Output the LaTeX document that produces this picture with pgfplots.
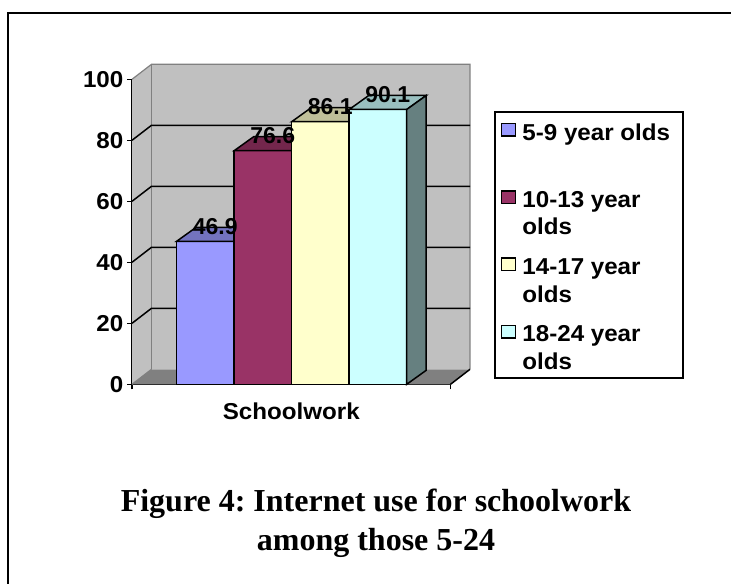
\documentclass[border=0pt]{standalone}
\usepackage{pgfplots}
\pgfplotsset{compat=1.18}
\usepackage{fontspec}
\newfontfamily\labfam[FakeStretch=1.05]{Liberation Sans}
\newfontfamily\datfam{Liberation Sans}
\newfontfamily\capfam{Liberation Serif}
\newcommand\labfont{\labfam\bfseries\fontsize{23bp}{27.5bp}\selectfont}
\newcommand\datafont{\datfam\bfseries\fontsize{23bp}{27.5bp}\selectfont}
\newcommand\capfont{\capfam\bfseries\fontsize{32bp}{38.3bp}\selectfont\frenchspacing}
% legend text: fixed-size box, baseline on the first line
\newcommand\legtext[1]{\raisebox{0pt}[20.3bp][28bp]{\parbox[t]{155bp}{\labfont\raggedright #1}}}

\definecolor{barA}{HTML}{9999FF}
\definecolor{barB}{HTML}{993366}
\definecolor{barC}{HTML}{FFFFCC}
\definecolor{barD}{HTML}{CCFFFF}
\definecolor{wallc}{HTML}{C0C0C0}
\definecolor{floorc}{HTML}{808080}
\definecolor{edgec}{HTML}{808080}

\pgfplotsset{
  barbase/.style={ybar, bar width=57.5, bar shift=0pt, draw=black, line width=1.5bp,
    legend image code/.code={%
      \path[draw=none, fill=none] (0bp,-20.45bp) -- (0bp,20.45bp);
      \draw[##1] (0bp,7.85bp) rectangle (14.3bp,20.45bp);}},
  face/.style={draw=black, line width=1.5bp, line join=miter, forget plot},
}

\begin{document}
\begin{tikzpicture}
\useasboundingbox (0,0) rectangle (731bp,-584bp);
\clip (0,0) rectangle (731bp,-584bp);
% page frame
\draw[line width=2bp] (8.3bp,-700bp) -- (8.3bp,-13bp) -- (800bp,-13bp);

\begin{axis}[
  at={(132bp,-384.3bp)}, anchor=south west,
  x=1bp, y=3.05bp,
  xmin=0, xmax=318.5, ymin=0, ymax=100,
  clip=false,
  axis x line*=bottom, axis y line*=left,
  axis line style={line width=1.5bp, black},
  tick style={black, line width=1.5bp},
  tick align=outside,
  major tick length=5bp,
  ytick={0,20,...,100},
  yticklabel style={font=\labfont, anchor=east, inner xsep=0pt, xshift=-3.5bp},
  /pgf/number format/assume math mode=true,
  xtick={0,318.5}, xticklabels={},
  extra x ticks={159.25}, extra x tick labels={Schoolwork},
  extra x tick style={major tick length=0pt},
  xticklabel style={font=\labfont, anchor=base, yshift=-34.7bp},
  legend cell align=left,
  legend style={at={(1.1375,0.896)}, anchor=north west, draw=black, line width=1.5bp,
    inner xsep=5.6bp, inner ysep=8bp, row sep=19bp, column sep=6bp,
    font=\labfont, nodes={inner sep=0pt, text depth=}},
]

% back wall, side wall and floor
\fill[wallc] (axis cs:0,0) -- (axis cs:19.5,4.92) -- (axis cs:19.5,104.92) -- (axis cs:0,100) -- cycle;
\fill[wallc] (axis cs:19.5,4.92) rectangle (axis cs:338,104.92);
\fill[floorc] (axis cs:0,0) -- (axis cs:318.5,0) -- (axis cs:338,4.92) -- (axis cs:19.5,4.92) -- cycle;
\draw[edgec, line width=1.2bp] (axis cs:0,100) -- (axis cs:19.5,104.92) -- (axis cs:338,104.92) -- (axis cs:338,4.92);
\draw[edgec, line width=1.2bp] (axis cs:19.5,4.92) -- (axis cs:19.5,104.92);
\draw[edgec, line width=1.2bp] (axis cs:0,0) -- (axis cs:19.5,4.92);
\draw[black, line width=1.5bp] (axis cs:318.5,0) -- (axis cs:338,4.92);
% gridlines
\draw[black, line width=1.5bp] (axis cs:0,20) -- (axis cs:19.5,24.92) -- (axis cs:338,24.92);
\draw[black, line width=1.5bp] (axis cs:0,40) -- (axis cs:19.5,44.92) -- (axis cs:338,44.92);
\draw[black, line width=1.5bp] (axis cs:0,60) -- (axis cs:19.5,64.92) -- (axis cs:338,64.92);
\draw[black, line width=1.5bp] (axis cs:0,80) -- (axis cs:19.5,84.92) -- (axis cs:338,84.92);

% 5-9 year olds
\addplot[barbase, fill=barA] coordinates {(73.45,46.9)};
\addlegendentry{\legtext{5-9 year olds}}
\addplot[face, fill=barA!75!black] coordinates {(44.7,46.9) (102.2,46.9) (121.7,51.49) (64.2,51.49)} -- cycle;

% 10-13 year olds
\addplot[barbase, fill=barB] coordinates {(130.95,76.6)};
\addlegendentry{\legtext{10-13 year\newline olds}}
\addplot[face, fill=barB!75!black] coordinates {(102.2,76.6) (159.7,76.6) (179.2,81.19) (121.7,81.19)} -- cycle;

% 14-17 year olds
\addplot[barbase, fill=barC] coordinates {(188.45,86.1)};
\addlegendentry{\legtext{14-17 year\newline olds}}
\addplot[face, fill=barC!75!black] coordinates {(159.7,86.1) (217.2,86.1) (236.7,90.69) (179.2,90.69)} -- cycle;

% 18-24 year olds
\addplot[barbase, fill=barD] coordinates {(245.95,90.1)};
\addlegendentry{\legtext{18-24 year\newline olds}}
\addplot[face, fill=barD!75!black] coordinates {(217.2,90.1) (274.7,90.1) (294.2,94.69) (236.7,94.69)} -- cycle;
\addplot[face, fill=barD!50!black] coordinates {(274.7,0) (274.7,90.1) (294.2,94.69) (294.2,4.59)} -- cycle;

% value labels on top of the bars
\addplot[ybar, bar width=57.5, bar shift=0pt, draw=none, fill=none, forget plot,
  nodes near coords={\pgfmathprintnumber[fixed,fixed zerofill,precision=1,assume math mode=true]{\pgfplotspointmeta}},
  nodes near coords style={font=\datafont, anchor=base, inner sep=0pt, xshift=9.75bp, yshift=7bp}]
  coordinates {(73.45,46.9) (130.95,76.6) (188.45,86.1) (245.95,90.1)};
\end{axis}

\node[font=\capfont, anchor=base] at (376bp,-511.7bp) {Figure 4: Internet use for schoolwork};
\node[font=\capfont, anchor=base] at (376bp,-550bp) {among those 5-24};
\end{tikzpicture}
\end{document}
